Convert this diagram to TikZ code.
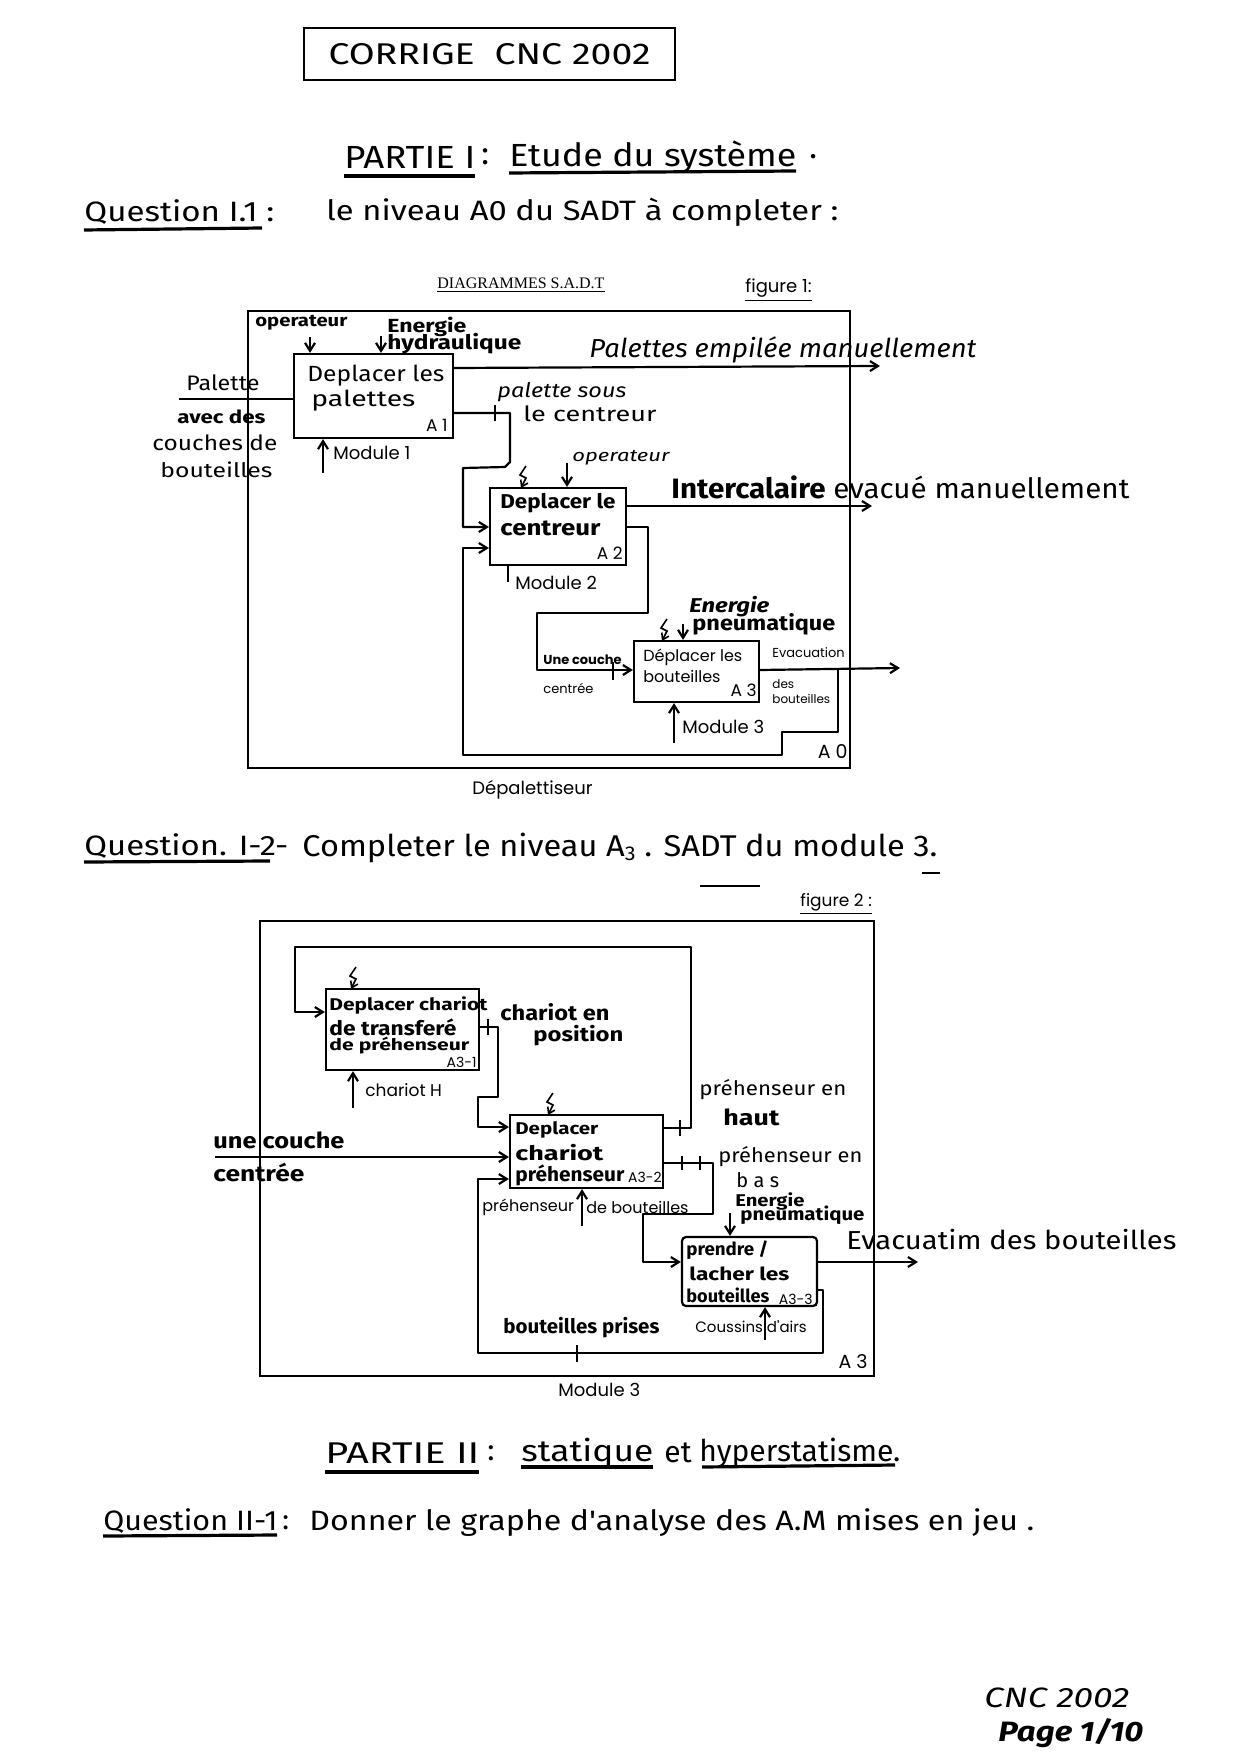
\documentclass[tikz,border=0pt]{standalone}
\usepackage{graphicx}
\usepackage{fontspec}
\setmainfont{Fira Sans}
\newfontfamily\hand{Fira Sans}
\newfontfamily\prt{Poppins}
\newfontfamily\tms{Liberation Serif}
\usetikzlibrary{arrows.meta}
\newdimen\px \px=0.5pt
\newcommand\fsz[1]{\fontsize{#1}{#1}\selectfont}
\newcommand\fitw[2]{\resizebox{#1\px}{\height}{#2}}
\tikzset{
  ln/.style={line width=1.1pt, line join=round},
  thin ln/.style={line width=0.7pt},
  arr/.style={ln, -{Straight Barb[length=4pt,width=5pt]}},
  box/.style={draw, line width=1.1pt, inner sep=0pt},
  hw/.style={font=\hand, inner sep=0pt, anchor=west},
  pr/.style={font=\prt, inner sep=0pt, anchor=west},
  uline/.style={line width=1.6pt},
  bolt/.pic={\draw[line width=0.8pt,-{Straight Barb[length=3pt,width=4pt]}] (3,-22) -- (-3,-13) -- (3,-10) -- (-2,0);}
}
\begin{document}
\begin{tikzpicture}[x=0.5pt,y=-0.5pt]
\useasboundingbox (0,0) rectangle (1240,1754);

% ---------- header ----------
\node[draw, line width=1.2pt, minimum width=371\px, minimum height=52\px, inner sep=0pt,
      font={\hand\fsz{15}}] (title) at (489.5,54) {\fitw{322}{CORRIGE\ \ CNC 2002}};
\node[hw, font={\hand\fsz{16}}] (p1a) at (344,157) {\fitw{131}{PARTIE I}};
\node[hw, font={\hand\fsz{16}}] (p1b) at (481,157) {:};
\node[hw, font={\hand\fsz{16}}] (p1c) at (509,157) {\fitw{287}{Etude du système}};
\node[hw, font={\hand\fsz{16}}] (p1d) at (809,157) {.};
\draw[uline] (344,176) -- (475,176);
\draw[uline] (509,173) -- (796,171);
\node[hw, font={\hand\fsz{14}}] (q1) at (84,212) {\fitw{190}{Question I.1 :}};
\draw[uline] (84,230) -- (262,228);
\node[hw, font={\hand\fsz{14}}] (q1t) at (326,212) {\fitw{512}{le niveau A0 du SADT à completer :}};

% ---------- figure 1 ----------
\node[inner sep=0pt, anchor=west, font={\tms\fsz{8}}] (diag) at (437,285) {\underline{DIAGRAMMES S.A.D.T}};
\node[pr, font={\prt\fsz{9}}] (fig1) at (745,290) {\underline{figure 1:}};

\node[box] (F1) at (549,539.5) [minimum width=602\px, minimum height=457\px] {};
\node[box] (A1) at (373.5,396) [minimum width=159\px, minimum height=84\px] {};
\node[box] (A2) at (558,526.5) [minimum width=136\px, minimum height=77\px] {};
\node[box] (A3) at (696.5,671.5) [minimum width=125\px, minimum height=61\px] {};

% A1
\node[hw, font={\hand\fsz{11}}] (a1t1) at (307,376) {\fitw{137}{Deplacer les}};
\node[hw, font={\hand\fsz{11}}] (a1t2) at (311,401) {\fitw{104}{palettes}};
\node[pr, anchor=east, font={\prt\fsz{8.5}}] (a1n) at (448,425) {A 1};
\node[hw, font={\hand\bfseries\fsz{8.5}}] (op1) at (255,323) {\fitw{92}{operateur}};
\draw[arr] (310,337) -- (A1.north -| 310,0);
\node[hw, font={\hand\bfseries\fsz{9.5}}] (en1) at (387,327) {\fitw{79}{Energie}};
\node[hw, font={\hand\bfseries\fsz{10}}] (hy1) at (387,344) {\fitw{134}{hydraulique}};
\draw[arr] (381,336) -- (A1.north -| 381,0);
\coordinate (pin) at (179,399);
\draw[ln] (pin) -- (A1.west |- pin);
\node[hw, font={\hand\fsz{10.5}}] (pal1) at (186,383) {\fitw{73}{Palette}};
\node[hw, font={\hand\bfseries\fsz{9}}] (pal2) at (177,417) {\fitw{88}{avec des}};
\node[hw, font={\hand\fsz{10.5}}] (pal3) at (152,443) {\fitw{125}{couches de}};
\node[hw, font={\hand\fsz{10}}] (pal4) at (160,470) {\fitw{112}{bouteilles}};
\coordinate (pem) at (880,366);
\draw[arr] (A1.east |- 0,368) -- (pem);
\node[hw, font={\hand\itshape\fsz{13}}] (pemt) at (589,350) {\fitw{387}{Palettes empilée manuellement}};
\draw[arr] (A1.east |- 0,413) -- (510,413) -- (510,462) -- (505,467) -- (463,468) -- (463,527) -- (A2.west |- 0,527);
\draw[ln] (495,405) -- (495,421);
\node[hw, font={\hand\itshape\fsz{10}}] (ps1) at (497,392) {\fitw{129}{palette sous}};
\node[hw, font={\hand\fsz{10.5}}] (ps2) at (523,414) {\fitw{133}{le centreur}};
\coordinate (m1) at (323,473);
\draw[arr] (m1) -- (A1.south -| m1);
\node[pr, font={\prt\fsz{9}}] (m1t) at (333,453) {Module 1};

% A2
\pic at (523,488) {bolt};
\draw[arr] (567,463) -- (A2.north -| 567,0);
\node[hw, font={\hand\itshape\fsz{8.5}}] (op2) at (572,458) {\fitw{97}{operateur}};
\node[hw, font={\hand\bfseries\fsz{10}}] (a2t1) at (500,503) {\fitw{115}{Deplacer le}};
\node[hw, font={\hand\bfseries\fsz{11}}] (a2t2) at (500,528) {\fitw{100}{centreur}};
\node[pr, anchor=east, font={\prt\fsz{8.5}}] (a2n) at (623,553) {A 2};
\draw[ln] (A2.south -| 508,0) -- (508,582);
\node[pr, font={\prt\fsz{9}}] (m2t) at (515,583) {Module 2};
\coordinate (int) at (872,506);
\draw[arr] (A2.east |- int) -- (int);
\node[hw, font={\hand\fsz{14}}] (intt) at (671,487) {\fitw{458}{\textbf{Intercalaire} evacué manuellement}};
\draw[arr] (A2.east |- 0,527) -- (648,527) -- (648,613) -- (537,613) -- (537,670) -- (A3.west |- 0,670);
\draw[ln] (613,662) -- (613,680);
\node[pr, font={\prt\bfseries\fsz{6.5}}] (uc1) at (543,660) {Une couche};
\node[pr, font={\prt\fsz{6.5}}] (uc2) at (543,688) {centrée};

% A3
\pic at (664,641) {bolt};
\draw[arr] (683,624) -- (A3.north -| 683,0);
\node[hw, font={\hand\bfseries\itshape\fsz{10}}] (en3) at (689,607) {\fitw{80}{Energie}};
\node[hw, font={\hand\bfseries\fsz{10.5}}] (pn3) at (692,624) {\fitw{143}{pneumatique}};
\node[pr, font={\prt\fsz{8}}] (a3t1) at (643,657) {Déplacer les};
\node[pr, font={\prt\fsz{8}}] (a3t2) at (643,676) {bouteilles};
\node[pr, anchor=east, font={\prt\fsz{8.5}}] (a3n) at (757,690) {A 3};
\coordinate (ev) at (900,668);
\draw[arr] (A3.east |- 0,670) -- (ev);
\node[pr, font={\prt\fsz{6.5}}] (ev1) at (772,653) {Evacuation};
\node[pr, font={\prt\fsz{6}}] (ev2) at (772,684) {des};
\node[pr, font={\prt\fsz{6}}] (ev3) at (772,699) {bouteilles};
\draw[arr] (838,670) -- (838,732) -- (782,732) -- (782,755) -- (463,755) -- (463,548) -- (A2.west |- 0,548);
\coordinate (m3) at (674,743);
\draw[arr] (m3) -- (A3.south -| m3);
\node[pr, font={\prt\fsz{9}}] (m3t) at (682,727) {Module 3};
\node[pr, anchor=east, font={\prt\fsz{9.5}}] (a0n) at (848,752) {A 0};
\node[pr, font={\prt\fsz{9}}] (dep) at (472,790) {Dépalettiseur};

% ---------- question I.2 ----------
\node[hw, font={\hand\fsz{14}}] (q2) at (84,846) {\fitw{204}{Question. I-2-}};
\draw[uline] (84,862) -- (270,861);
\node[hw, font={\hand\fsz{15}}] (q2t) at (302,848) {\fitw{635}{Completer le niveau A{\fsz{10}\raisebox{-2pt}{3}} . SADT du module 3.}};
\draw[thin ln] (700,886) -- (760,886);
\draw[thin ln] (922,873) -- (940,873);

% ---------- figure 2 ----------
\node[pr, font={\prt\fsz{8.5}}] (fig2) at (800,904) {\underline{figure 2 :}};
\node[box] (F2) at (567,1148.5) [minimum width=614\px, minimum height=455\px] {};
\node[box] (B1) at (402.5,1029.5) [minimum width=153\px, minimum height=81\px] {};
\node[box] (B2) at (586.5,1151.5) [minimum width=153\px, minimum height=73\px] {};
\node[box, rounded corners=2pt] (B3) at (749.5,1271.5) [minimum width=135\px, minimum height=69\px] {};

% A3-1
\pic at (353,989) {bolt};
\node[hw, font={\hand\bfseries\fsz{8.5}}] (b1t1) at (329,1005) {\fitw{158}{Deplacer chariot}};
\node[hw, font={\hand\bfseries\fsz{10}}] (b1t2) at (329,1027) {\fitw{127}{de transferé}};
\node[hw, font={\hand\bfseries\fsz{8}}] (b1t3) at (329,1046) {\fitw{140}{de préhenseur}};
\node[pr, anchor=east, font={\prt\fsz{7}}] (b1n) at (477,1062) {A3-1};
\draw[arr] (B2.east |- 0,1128) -- (691,1128) -- (691,947) -- (295,947) -- (295,1012) -- (B1.west |- 0,1012);
\draw[ln] (680,1120) -- (680,1136);
\draw[arr] (B1.east |- 0,1027) -- (498,1027) -- (498,1097) -- (478,1097) -- (478,1127) -- (B2.west |- 0,1127);
\draw[ln] (488,1019) -- (488,1035);
\node[hw, font={\hand\bfseries\fsz{10.5}}] (cp1) at (500,1012) {\fitw{109}{chariot en}};
\node[hw, font={\hand\bfseries\fsz{10}}] (cp2) at (533,1036) {\fitw{90}{position}};
\coordinate (mh) at (353,1108);
\draw[arr] (mh) -- (B1.south -| mh);
\node[pr, font={\prt\fsz{8.5}}] (mht) at (365,1090) {chariot H};

% A3-2
\pic at (550,1115) {bolt};
\node[hw, font={\hand\bfseries\fsz{8.5}}] (b2t1) at (515,1130) {\fitw{83}{Deplacer}};
\node[hw, font={\hand\bfseries\fsz{10}}] (b2t2) at (515,1153) {\fitw{88}{chariot}};
\node[hw, font={\hand\bfseries\fsz{10}}] (b2t3) at (515,1175) {\fitw{109}{préhenseur}};
\node[pr, anchor=east, font={\prt\fsz{7}}] (b2n) at (662,1177) {A3-2};
\coordinate (ucin) at (215,1157);
\draw[arr] (ucin) -- (B2.west |- ucin);
\node[hw, font={\hand\bfseries\fsz{11}}] (uc3) at (213,1140) {\fitw{131}{une couche}};
\node[hw, font={\hand\bfseries\fsz{11}}] (uc4) at (213,1172) {\fitw{91}{centrée}};
\coordinate (mp) at (582,1226);
\draw[arr] (mp) -- (B2.south -| mp);
\node[pr, font={\prt\fsz{8}}] (mpt1) at (482,1207) {préhenseur};
\node[pr, font={\prt\fsz{8}}] (mpt2) at (586,1207) {de bouteilles};
\draw[arr] (B2.east |- 0,1163) -- (713,1163) -- (713,1214) -- (643,1214) -- (643,1262) -- (B3.west |- 0,1262);
\draw[ln] (682,1156) -- (682,1170);
\draw[ln] (700,1156) -- (700,1170);
\node[hw, font={\hand\fsz{10}}] (ph1) at (699,1090) {\fitw{147}{préhenseur en}};
\node[hw, font={\hand\bfseries\fsz{11}}] (ph2) at (723,1117) {\fitw{56}{haut}};
\node[hw, font={\hand\fsz{10}}] (pb1) at (718,1157) {\fitw{144}{préhenseur en}};
\node[hw, font={\hand\fsz{10}}] (pb2) at (736,1180) {b a s};

% A3-3
\node[hw, font={\hand\bfseries\fsz{8.5}}] (en4) at (735,1201) {\fitw{69}{Energie}};
\node[hw, font={\hand\bfseries\fsz{9}}] (pn4) at (740,1215) {\fitw{124}{pneumatique}};
\draw[arr] (730,1213) -- (B3.north -| 730,0);
\node[hw, font={\hand\bfseries\fsz{9}}] (b3t1) at (686,1250) {\fitw{82}{prendre /}};
\node[hw, font={\hand\bfseries\fsz{9}}] (b3t2) at (689,1274) {\fitw{100}{lacher les}};
\node[hw, font={\hand\bfseries\fsz{9}}] (b3t3) at (686,1295) {\fitw{83}{bouteilles}};
\node[pr, anchor=east, font={\prt\fsz{7}}] (b3n) at (813,1299) {A3-3};
\coordinate (evb) at (918,1262);
\draw[arr] (B3.east |- evb) -- (evb);
\node[hw, font={\hand\fsz{13}}] (evbt) at (846,1240) {\fitw{330}{Evacuatim des bouteilles}};
\draw[arr] (B3.east |- 0,1290) -- (823,1290) -- (823,1353) -- (478,1353) -- (478,1179) -- (B2.west |- 0,1179);
\draw[ln] (577,1345) -- (577,1362);
\node[hw, font={\hand\bfseries\fsz{10}}] (bp) at (503,1328) {\fitw{156}{bouteilles prises}};
\coordinate (mc) at (765,1340);
\draw[arr] (mc) -- (B3.south -| mc);
\node[pr, font={\prt\fsz{7.5}}] (mct) at (695,1327) {Coussins d'airs};
\node[pr, anchor=east, font={\prt\fsz{9.5}}] (a3b) at (868,1362) {A 3};
\node[pr, font={\prt\fsz{9}}] (m3b) at (558,1390) {Module 3};

% ---------- partie II ----------
\node[hw, font={\hand\fsz{15}}] (p2a) at (325,1453) {\fitw{154}{PARTIE II}};
\node[hw, font={\hand\fsz{15}}] (p2b) at (487,1453) {:};
\node[hw, font={\hand\fsz{15}}] (p2c) at (521,1453) {\fitw{132}{statique}};
\node[hw, font={\hand\fsz{15}}] (p2d) at (664,1453) {et};
\node[hw, font={\hand\fsz{15}}] (p2e) at (699,1453) {\fitw{201}{hyperstatisme.}};
\draw[uline] (325,1472) -- (479,1472);
\draw[uline] (521,1467) -- (653,1467);
\draw[uline] (702,1467) -- (895,1465);
\node[hw, font={\hand\fsz{14}}] (q3) at (103,1521) {\fitw{174}{Question II-1}};
\draw[uline] (103,1536) -- (277,1535);
\node[hw, font={\hand\fsz{14}}] (q3b) at (282,1523) {:};
\node[hw, font={\hand\fsz{14}}] (q3t) at (309,1523) {\fitw{725}{Donner le graphe d'analyse des A.M mises en jeu .}};

% ---------- footer ----------
\node[hw, font={\hand\itshape\fsz{14}}] (f1) at (984,1698) {\fitw{145}{CNC 2002}};
\node[hw, font={\hand\bfseries\itshape\fsz{14}}] (f2) at (998,1733) {\fitw{145}{Page 1/10}};
\end{tikzpicture}
\end{document}
